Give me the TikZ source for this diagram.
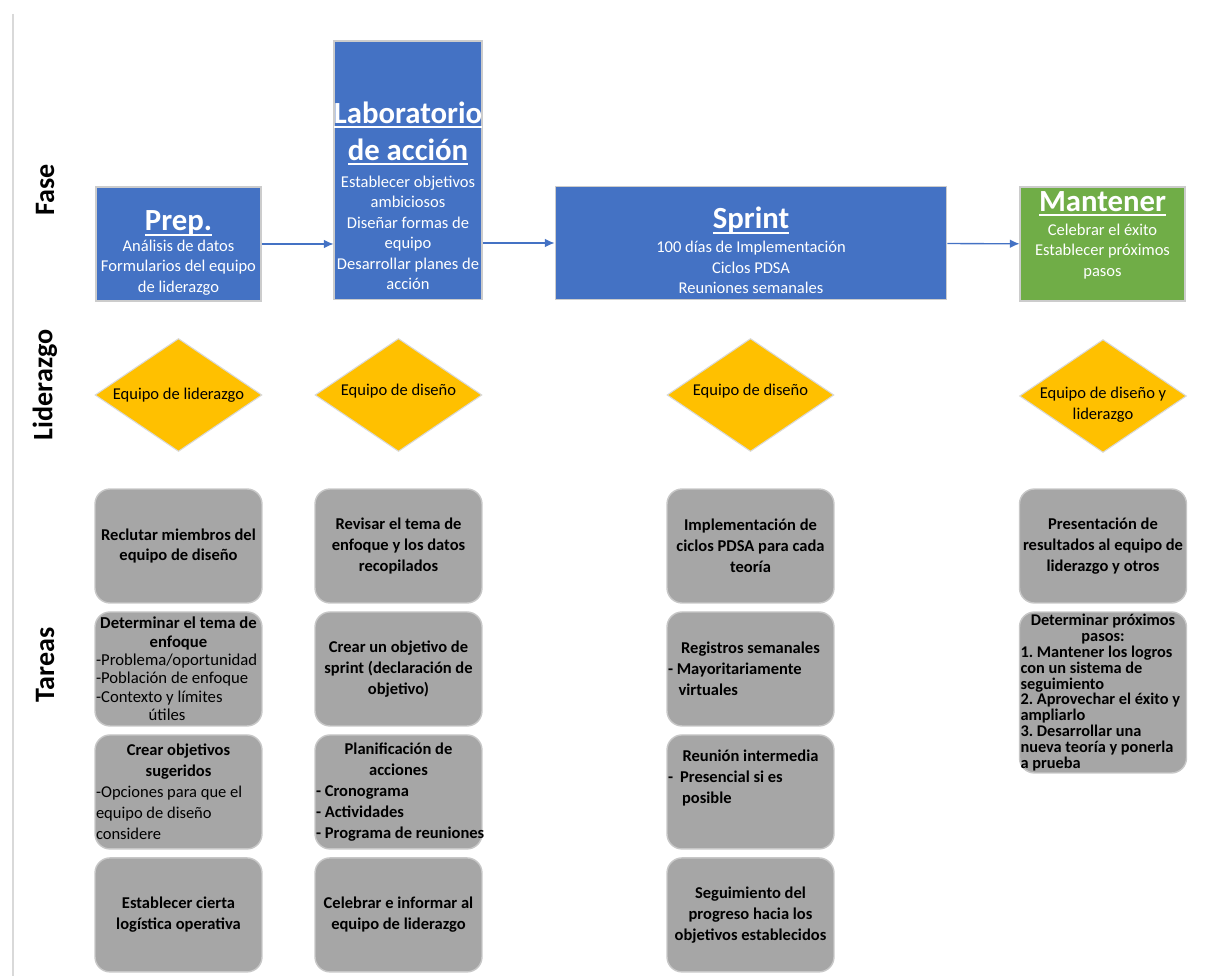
\documentclass[tikz,border=0pt]{standalone}
\usepackage{fontspec}
\setmainfont{Carlito}
\frenchspacing
\usetikzlibrary{arrows.meta,shapes.geometric}

\definecolor{faseblue}{HTML}{4472C4}
\definecolor{mantgreen}{HTML}{70AD47}
\definecolor{lidergold}{HTML}{FFC000}
\definecolor{tareagray}{HTML}{A6A6A6}

\newcommand{\fasetit}[1]{{\fontsize{17.5}{20}\selectfont\bfseries
    \setbox0\hbox{#1}\leavevmode\rlap{\rule[-2.6pt]{\wd0}{1.1pt}}\box0}}
\newcommand{\izq}{\par\leftskip=0pt\rightskip=0pt plus 1fil\parfillskip=0pt plus 1fil\relax}

\begin{document}
\begin{tikzpicture}[->,>={Latex[length=5.5pt,width=5pt]},x=0.02cm,y=-0.02cm,node distance=2.46cm,
    fase/.style={rectangle, fill=faseblue, draw=black!20, line width=0.6pt,
        inner sep=0pt, minimum height=2.28cm},
    fasetxt/.style={text=white, align=center, inner sep=0pt,
        font=\fontsize{9.4}{11.6}\selectfont},
    lider/.style={diamond, fill=lidergold, draw=black!15, line width=0.6pt,
        minimum width=3.34cm, minimum height=2.26cm, inner sep=0pt},
    lidertxt/.style={align=center, inner sep=0pt, font=\fontsize{9.4}{12}\selectfont},
    tarea/.style={rectangle, rounded corners=0.3cm, fill=tareagray, draw=black!22,
        line width=0.8pt, minimum width=3.34cm, minimum height=2.28cm, text width=3.3cm,
        align=flush center, inner sep=0pt, font=\fontsize{9.4}{11.9}\selectfont\bfseries},
    eje/.style={rotate=90, font=\fontsize{16}{19}\selectfont\bfseries},
    flow/.style={faseblue, line width=0.75pt}]

\useasboundingbox (0,0) rectangle (1218,976);
\draw[-, black!15, line width=1.2pt] (13,14) -- (13,976);

% row labels
\node[eje] (fase)  at (45,190) {Fase};
\node[eje] (lidz)  at (45,385) {Liderazgo};
\node[eje] (tarea) at (45,665) {Tareas};

% phases
\node[fase, minimum width=3.3cm] (prep) at (178.5,244) {};
\node[fasetxt] (preptxt) at ([yshift=-5.1pt]prep.center)
    {\fasetit{Prep.}\\ Análisis de datos\\ Formularios del equipo\\ de liderazgo};
\node[fase, minimum width=2.96cm, minimum height=5.18cm] (lab) at (408,170.5) {};
\node[fasetxt, anchor=south] (labtxt) at ([yshift=6pt]lab.south)
    {\fasetit{Laboratorio}\\[5pt] \fasetit{de acción}\\[4pt] Establecer objetivos\\ ambiciosos\\
     Diseñar formas de\\ equipo\\ Desarrollar planes de\\ acción};
\node[fase, minimum width=7.84cm, minimum height=2.26cm] (sprint) at (751,243) {};
\node[fasetxt] (sprinttxt) at ([yshift=-4.3pt]sprint.center)
    {\fasetit{Sprint}\\[2pt] 100 días de Implementación\\ Ciclos PDSA\\ Reuniones semanales};
\node[fase, fill=mantgreen, minimum width=3.3cm] (mant) at (1102.5,244) {};
\node[fasetxt] (manttxt) at ([yshift=5pt]mant.center)
    {\fasetit{Mantener}\\[2pt] Celebrar el éxito\\ Establecer próximos\\ pasos};

\path[flow]
    (prep) edge (prep -| lab.west)
    (lab.east |- sprint) edge (sprint)
    (sprint) edge (mant);

% leadership
\node[lider] (l1) at (178.5,395) {};
\node[lider] (l2) at (398.5,395) {};
\node[lider] (l3) at (750.5,395) {};
\node[lider] (l4) at (1103,396) {};
\node[lidertxt] (l1txt) at (l1) {Equipo de liderazgo};
\node[lidertxt] (l2txt) at ([yshift=2pt]l2) {Equipo de diseño};
\node[lidertxt] (l3txt) at ([yshift=2pt]l3) {Equipo de diseño};
\node[lidertxt] (l4txt) at ([yshift=-5pt]l4) {Equipo de diseño y\\ liderazgo};

% tasks
\node[tarea] (t11) at (178.5,546) {Reclutar miembros del\\ equipo de diseño};
\node[tarea, font=\fontsize{9.5}{10.5}\selectfont\bfseries] (t12) [below of=t11]
    {Determinar el tema de\\ enfoque\izq\mdseries -Problema/oportunidad\\
     -Población de enfoque\\ -Contexto y límites\\ \hspace*{30pt}útiles\par};
\node[tarea] (t13) [below of=t12]
    {Crear objetivos\\ sugeridos\izq\mdseries -Opciones para que el\\
     equipo de diseño\\ considere\par};
\node[tarea] (t14) [below of=t13] {Establecer cierta\\ logística operativa};

\node[tarea] (t21) at (398.5,546) {Revisar el tema de\\ enfoque y los datos\\ recopilados};
\node[tarea] (t22) [below of=t21] {Crear un objetivo de\\ sprint (declaración de\\ objetivo)};
\node[tarea] (t23) [below of=t22]
    {Planificación de\\ acciones\izq - Cronograma\\ - Actividades\\
     \mbox{- Programa de reuniones}\par};
\node[tarea] (t24) [below of=t23] {Celebrar e informar al\\ equipo de liderazgo};

\node[tarea] (t31) at (750.5,546) {Implementación de\\ ciclos PDSA para cada\\ teoría};
\node[tarea] (t32) [below of=t31]
    {Registros semanales\izq - Mayoritariamente\\ \hspace*{6pt}virtuales\par};
\node[tarea] (t33) [below of=t32]
    {Reunión intermedia\izq -\hspace*{4pt}Presencial si es\\
     \hspace*{8pt}posible\\ \mbox{}\\[-6pt] \mbox{}\par};
\node[tarea] (t34) [below of=t33] {Seguimiento del\\ progreso hacia los\\ objetivos establecidos};

\node[tarea] (t41) at (1103,546) {Presentación de\\ \mbox{resultados al equipo de}\\ liderazgo y otros};
\node[tarea, minimum height=3.22cm, font=\fontsize{9.3}{9}\selectfont\bfseries] (t42) at (1103,692.5)
    {\lineskiplimit=-\maxdimen Determinar próximos\\ pasos:\izq
     \mbox{1. Mantener los logros}\\ con un sistema de\\ seguimiento\\
     \mbox{2. Aprovechar el éxito y}\\ ampliarlo\\ 3. Desarrollar una\\
     \mbox{nueva teoría y ponerla}\\ a prueba\par};

\end{tikzpicture}
\end{document}
